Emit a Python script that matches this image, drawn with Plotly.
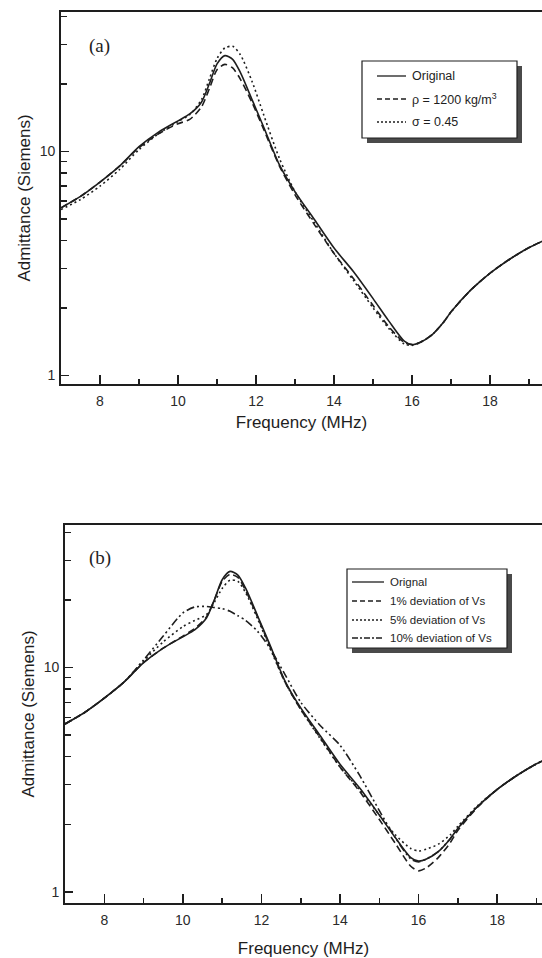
import plotly.graph_objects as go

# ---------------- data ----------------
freq = [7.0, 7.5, 8.0, 8.5, 9.0, 9.5, 10.0, 10.3, 10.6, 10.8, 11.0, 11.2, 11.4, 11.6,
        11.9, 12.2, 12.6, 13.0, 13.5, 14.0, 14.5, 15.0, 15.4, 15.8, 16.0, 16.2, 16.5,
        16.8, 17.0, 17.5, 18.0, 18.5, 19.0, 19.4]

original = [5.6, 6.3, 7.3, 8.6, 10.5, 12.2, 13.7, 14.7, 16.6, 20.0, 24.6, 26.8, 25.8, 22.5,
            17.0, 12.8, 8.7, 6.6, 4.95, 3.7, 2.9, 2.2, 1.75, 1.42, 1.37, 1.40, 1.51,
            1.72, 1.92, 2.40, 2.86, 3.30, 3.72, 4.02]

rho_1200 = [5.6, 6.3, 7.3, 8.6, 10.4, 12.0, 13.3, 13.9, 15.8, 19.0, 23.2, 24.5, 23.6, 21.0,
            16.5, 12.5, 8.6, 6.4, 4.7, 3.5, 2.7, 2.05, 1.65, 1.40, 1.37, 1.40, 1.51,
            1.72, 1.92, 2.40, 2.86, 3.30, 3.72, 4.02]

sigma_045 = [5.5, 6.1, 7.0, 8.3, 10.2, 12.0, 13.6, 14.6, 17.0, 21.0, 26.0, 29.0, 29.5, 27.0,
             20.5, 14.5, 9.3, 6.6, 4.8, 3.5, 2.65, 2.0, 1.62, 1.38, 1.36, 1.40, 1.51,
             1.72, 1.92, 2.40, 2.86, 3.30, 3.72, 4.02]

dev_1 = [5.6, 6.3, 7.3, 8.6, 10.5, 12.2, 13.8, 14.9, 16.8, 20.0, 24.2, 26.0, 25.2, 22.0,
         16.8, 12.6, 8.6, 6.5, 4.85, 3.6, 2.8, 2.1, 1.65, 1.30, 1.24, 1.28, 1.42,
         1.65, 1.88, 2.38, 2.86, 3.30, 3.72, 4.02]

dev_5 = [5.6, 6.3, 7.3, 8.6, 10.7, 13.0, 15.2, 16.2, 17.2, 19.5, 22.5, 24.5, 24.2, 21.5,
         16.5, 12.4, 8.6, 6.5, 4.8, 3.6, 2.85, 2.2, 1.8, 1.56, 1.52, 1.55, 1.63,
         1.79, 1.96, 2.42, 2.86, 3.30, 3.72, 4.02]

dev_10 = [5.6, 6.3, 7.3, 8.6, 10.8, 13.8, 17.5, 18.6, 18.7, 18.5, 18.3, 17.8, 17.0, 16.2,
          14.5, 12.3, 9.3, 7.0, 5.5, 4.5, 3.3, 2.3, 1.75, 1.40, 1.36, 1.40, 1.51,
          1.72, 1.92, 2.40, 2.86, 3.30, 3.72, 4.02]

x_ticks = [8, 10, 12, 14, 16, 18]
x_minor = [9, 11, 13, 15, 17, 19]
y_ticks = [1, 10]
y_ticktext = ["1", "10"]
y_minor = [2, 3, 4, 5, 6, 7, 8, 9, 20, 30, 40]

legend_a = ["Original", "\u03c1 = 1200 kg/m<sup>3</sup>", "\u03c3 = 0.45"]
legend_b = ["Orignal", "1% deviation of Vs", "5% deviation of Vs", "10% deviation of Vs"]

W, H = 542, 958
INK = "#1e1e1e"

fig = go.Figure()

def add_line(y, dash, xa, ya):
    fig.add_trace(go.Scatter(x=freq, y=y, mode="lines", xaxis=xa, yaxis=ya,
                             line=dict(color=INK, width=1.6, dash=dash, shape="spline",
                                       smoothing=0.7),
                             showlegend=False, hoverinfo="skip"))

DASH = "7px,4px"
DOT = "2px,3px"
DASHDOT = "8px,3px,2px,3px,2px,3px"

add_line(original, "solid", "x", "y")
add_line(rho_1200, DASH, "x", "y")
add_line(sigma_045, DOT, "x", "y")

add_line(original, "solid", "x2", "y2")
add_line(dev_1, DASH, "x2", "y2")
add_line(dev_5, DOT, "x2", "y2")
add_line(dev_10, DASHDOT, "x2", "y2")

def px_x(p):
    return p / W

def px_y(p):
    return 1 - p / H

axis_font = dict(family="Liberation Sans, Arial, sans-serif", size=14, color="#2a2a2a")
title_font = dict(family="Liberation Sans, Arial, sans-serif", size=17, color=INK)

def xaxis_cfg(left_px, rng, anchor, standoff):
    return dict(domain=[px_x(left_px), 1], range=rng, anchor=anchor,
                tickmode="array", tickvals=x_ticks, ticks="inside", ticklen=9, tickwidth=1.5,
                tickcolor=INK, showgrid=False, zeroline=False, showline=True,
                linecolor=INK, linewidth=1.8, mirror=True, tickfont=axis_font,
                ticklabelstandoff=3,
                minor=dict(tickmode="array", tickvals=x_minor, ticks="inside", ticklen=5,
                           tickwidth=1.6, tickcolor=INK, showgrid=False),
                title=dict(text="Frequency (MHz)", font=title_font, standoff=standoff),
                automargin=False)

def yaxis_cfg(top_px, bot_px, rng, anchor):
    return dict(type="log", domain=[px_y(bot_px), px_y(top_px)], range=rng, anchor=anchor,
                tickmode="array", tickvals=y_ticks, ticktext=y_ticktext, ticks="inside",
                ticklen=8, tickwidth=1.5, tickcolor=INK, showgrid=False, zeroline=False,
                showline=True, linecolor=INK, linewidth=1.8, tickfont=axis_font,
                ticklabelstandoff=1,
                minor=dict(tickmode="array", tickvals=y_minor, ticks="inside", ticklen=6,
                           tickwidth=1.4, tickcolor=INK, showgrid=False),
                title=dict(text="Admittance (Siemens)", font=title_font, standoff=5),
                automargin=False)

YR_A = [-0.039, 1.623]
YR_B = [-0.05, 1.635]
XR_A = [7, 19.33]
XR_B = [7, 19.14]

shapes = []
annotations = []

def manual_legend(x0, y0, x1, y1, rows_y, line_x0, line_x1, text_x, labels, dashes, fsize):
    shapes.append(dict(type="rect", xref="paper", yref="paper",
                       x0=px_x(x0 + 5), x1=px_x(x1 + 5), y0=px_y(y1 + 5), y1=px_y(y0 + 5),
                       fillcolor="#4a4a4a", line=dict(width=0), layer="above"))
    shapes.append(dict(type="rect", xref="paper", yref="paper",
                       x0=px_x(x0), x1=px_x(x1), y0=px_y(y1), y1=px_y(y0),
                       fillcolor="white", line=dict(color=INK, width=1.2), layer="above"))
    for ry, lab, d in zip(rows_y, labels, dashes):
        shapes.append(dict(type="line", xref="paper", yref="paper",
                           x0=px_x(line_x0), x1=px_x(line_x1), y0=px_y(ry), y1=px_y(ry),
                           line=dict(color=INK, width=1.3, dash=d), layer="above"))
        annotations.append(dict(xref="paper", yref="paper", x=px_x(text_x), y=px_y(ry),
                                xanchor="left", yanchor="middle", showarrow=False, text=lab,
                                font=dict(family="Liberation Sans, Arial, sans-serif",
                                          size=fsize, color=INK)))

manual_legend(362, 61, 517, 138, [76, 99, 122], 377, 406, 410, legend_a,
              ["solid", "5px,3px", "2px,2px"], 12.5)
manual_legend(347, 569, 507, 648, [582, 601, 620, 638], 352, 384, 388, legend_b,
              ["solid", "5px,3px", "2px,2px", "6px,2px,2px,2px"], 11.5)

annotations.append(dict(xref="paper", yref="paper", x=px_x(99), y=px_y(46), text="(a)",
                        showarrow=False, xanchor="center", yanchor="middle",
                        font=dict(family="Liberation Serif, Times New Roman, serif",
                                  size=19, color=INK)))
annotations.append(dict(xref="paper", yref="paper", x=px_x(100), y=px_y(558), text="(b)",
                        showarrow=False, xanchor="center", yanchor="middle",
                        font=dict(family="Liberation Serif, Times New Roman, serif",
                                  size=19, color=INK)))

fig.update_layout(
    width=W, height=H, autosize=False,
    margin=dict(l=0, r=0, t=0, b=0),
    paper_bgcolor="white", plot_bgcolor="white",
    xaxis=xaxis_cfg(61, XR_A, "y", 8),
    yaxis=yaxis_cfg(12, 384, YR_A, "x"),
    xaxis2=xaxis_cfg(65, XR_B, "y2", 15),
    yaxis2=yaxis_cfg(525, 903, YR_B, "x2"),
    shapes=shapes, annotations=annotations,
    showlegend=False,
)

fig.write_html("out.html", config={"displayModeBar": False, "staticPlot": True},
               post_script="document.body.style.margin='0';document.body.style.overflow='hidden';")
